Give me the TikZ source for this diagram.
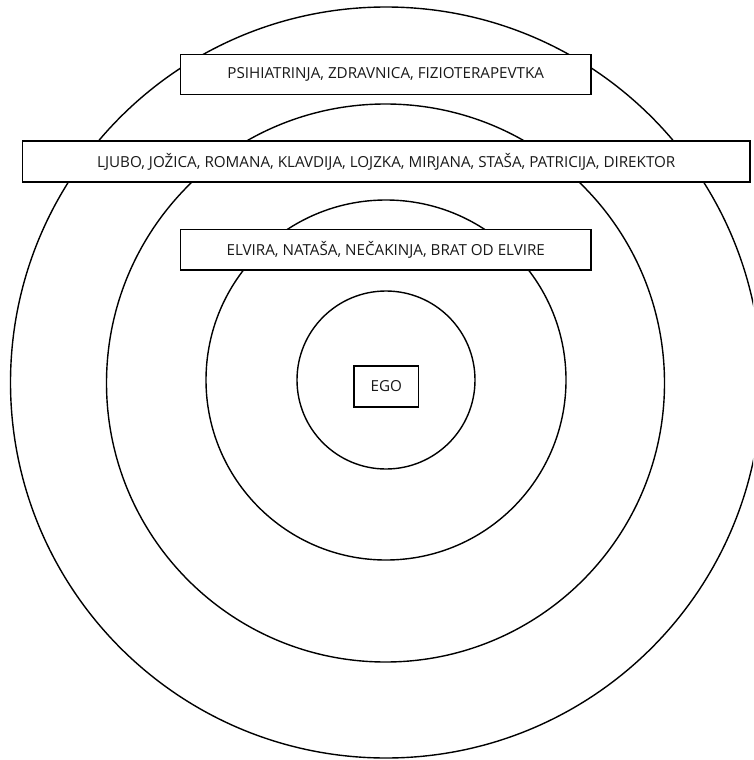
\documentclass[tikz,border=0pt]{standalone}
\usepackage{fontspec}
\setmainfont{Open Sans}
\begin{document}
\begin{tikzpicture}[x=1pt,y=-1pt,
  ring/.style={line width=1.4pt},
  lab/.style={draw, line width=1.4pt, fill=white, inner sep=0pt, anchor=center,
    font=\fontsize{15.2}{18}\selectfont, text=black!90}]
\useasboundingbox (0,0) rectangle (753,760);
\clip (0,0) rectangle (753,760);
\draw[ring] (386,382.5) circle[radius=375.5pt];
\draw[ring] (385.5,383) circle[radius=279pt];
\draw[ring] (386,380) circle[radius=180pt];
\draw[ring] (386,380) circle[radius=89pt];
\node[lab, minimum width=410.5pt, minimum height=40pt] (b1) at (385.75,74.5) {PSIHIATRINJA, ZDRAVNICA, FIZIOTERAPEVTKA};
\node[lab, minimum width=727.5pt, minimum height=41pt] (b2) at (386.25,161.5) {LJUBO, JOŽICA, ROMANA, KLAVDIJA, LOJZKA, MIRJANA, STAŠA, PATRICIJA, DIREKTOR};
\node[lab, minimum width=410.5pt, minimum height=40.5pt] (b3) at (385.75,249.75) {ELVIRA, NATAŠA, NEČAKINJA, BRAT OD ELVIRE};
\node[lab, minimum width=64.5pt, minimum height=41pt] (ego) at (386.25,386.5) {EGO};
\end{tikzpicture}
\end{document}
